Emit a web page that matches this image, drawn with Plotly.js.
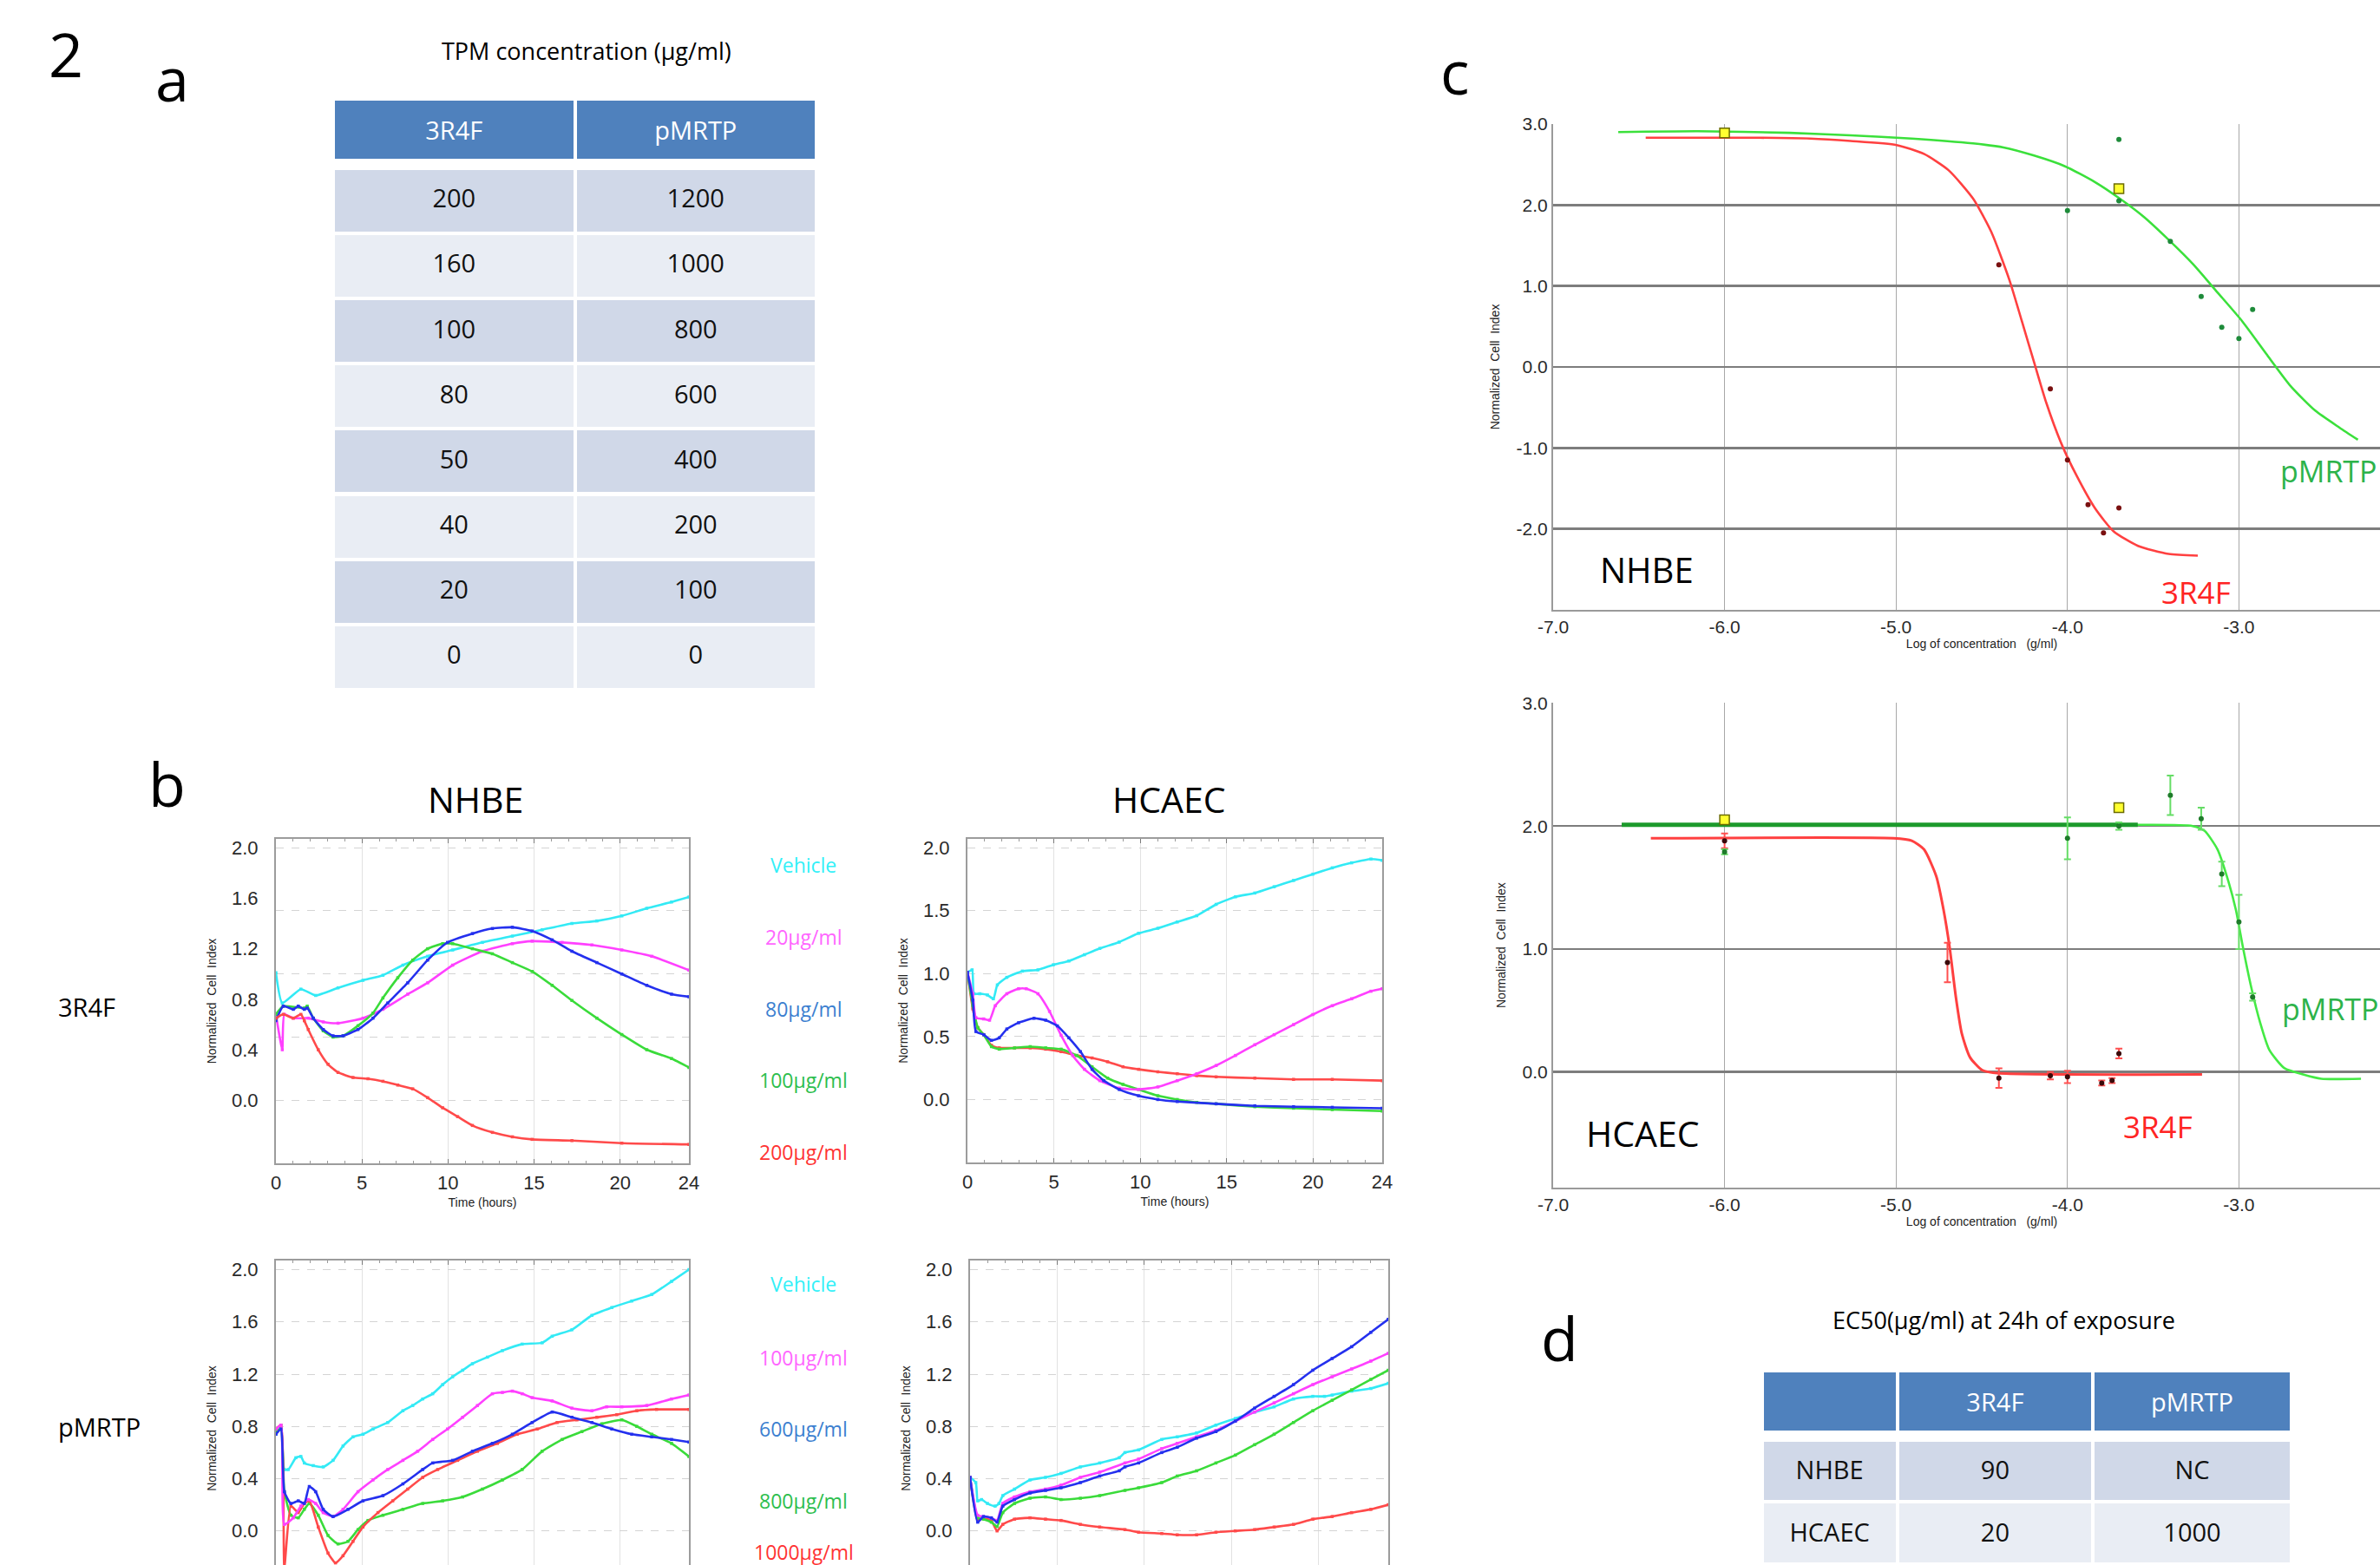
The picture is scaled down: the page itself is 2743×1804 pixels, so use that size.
<!DOCTYPE html>
<html><head><meta charset="utf-8">
<script src="https://cdn.plot.ly/plotly-3.0.1.min.js"></script>
<style>html,body{margin:0;padding:0;overflow:hidden;background:#fff}#fig{width:2900px;height:1900px}</style>
</head><body><div id="fig"></div>
<script>
// ---------------- (a) TPM concentration table ----------------
const tpmHeader = ['3R4F', 'pMRTP'];
const tpm3R4F = ['200', '160', '100', '80', '50', '40', '20', '0'];
const tpmPMRTP = ['1200', '1000', '800', '600', '400', '200', '100', '0'];

// ---------------- (d) EC50 table ----------------
const ec50Header = ['', '3R4F', 'pMRTP'];
const ec50Cells = ['NHBE', 'HCAEC'];
const ec50_3R4F = ['90', '20'];
const ec50_PMRTP = ['NC', '1000'];

// ---------------- (b) labels ----------------
const labels3R4F = ['Vehicle', '20µg/ml', '80µg/ml', '100µg/ml', '200µg/ml'];
const labelsPMRTP = ['Vehicle', '100µg/ml', '600µg/ml', '800µg/ml', '1000µg/ml'];
const timeTicks = [0, 5, 10, 15, 20, 24];

// NHBE, 3R4F (time in hours, normalized cell index)
const b1VehT = [0, 0.37, 1.45, 2.31, 3.61, 5.06, 6.22, 7.38, 8.82, 10.27, 12.0, 13.74, 15.47, 17.2, 18.65, 20.1, 21.55, 22.99, 24];
const b1VehY = [1.01, 0.77, 0.88, 0.83, 0.89, 0.95, 0.99, 1.07, 1.14, 1.19, 1.25, 1.30, 1.35, 1.40, 1.42, 1.46, 1.52, 1.57, 1.61];
const b1C20T = [0, 0.37, 0.49, 1.01, 1.88, 2.75, 3.61, 5.06, 6.22, 7.66, 8.82, 10.27, 12.0, 13.74, 14.89, 16.63, 18.36, 20.1, 21.84, 24];
const b1C20Y = [0.68, 0.40, 0.68, 0.65, 0.65, 0.62, 0.61, 0.65, 0.72, 0.84, 0.93, 1.07, 1.18, 1.24, 1.26, 1.25, 1.23, 1.19, 1.14, 1.03];
const b1C80T = [0, 0.43, 1.01, 1.30, 1.65, 1.82, 2.17, 2.75, 3.32, 3.9, 4.77, 5.64, 6.5, 7.66, 8.82, 9.97, 11.42, 12.58, 13.74, 14.89, 16.05, 17.2, 18.65, 20.1, 21.55, 22.99, 24];
const b1C80Y = [0.63, 0.745, 0.72, 0.745, 0.72, 0.73, 0.65, 0.56, 0.51, 0.51, 0.56, 0.65, 0.77, 0.93, 1.11, 1.25, 1.32, 1.36, 1.37, 1.34, 1.27, 1.18, 1.09, 1.0, 0.91, 0.84, 0.82];
const b1C100T = [0, 0.43, 1.65, 1.82, 2.17, 2.75, 3.32, 3.9, 4.77, 5.64, 6.22, 7.08, 7.95, 8.82, 9.69, 10.27, 11.42, 12.58, 13.74, 14.89, 16.05, 17.2, 18.65, 20.1, 21.55, 22.99, 24];
const b1C100Y = [0.68, 0.745, 0.73, 0.745, 0.65, 0.55, 0.50, 0.51, 0.59, 0.69, 0.81, 0.97, 1.11, 1.20, 1.24, 1.24, 1.20, 1.16, 1.09, 1.02, 0.91, 0.79, 0.65, 0.52, 0.40, 0.33, 0.26];
const b1C200T = [0, 0.43, 1.01, 1.45, 1.65, 1.88, 2.46, 3.03, 3.61, 4.48, 5.35, 6.22, 7.08, 7.95, 8.82, 9.69, 10.56, 11.42, 12.58, 13.74, 14.89, 17.2, 20.1, 24];
const b1C200Y = [0.65, 0.68, 0.65, 0.68, 0.63, 0.56, 0.40, 0.285, 0.22, 0.18, 0.17, 0.15, 0.12, 0.09, 0.02, -0.06, -0.13, -0.20, -0.255, -0.29, -0.31, -0.32, -0.34, -0.35];

// HCAEC, 3R4F
const b2VehT = [0, 0.27, 0.38, 0.72, 1.16, 1.5, 1.73, 2.28, 3.18, 4.08, 4.97, 5.87, 6.77, 7.66, 8.78, 9.9, 11.02, 12.14, 13.27, 14.39, 15.51, 16.63, 17.75, 18.87, 19.99, 21.11, 22.23, 23.35, 24];
const b2VehY = [1.01, 1.03, 0.84, 0.84, 0.83, 0.80, 0.91, 0.97, 1.02, 1.03, 1.07, 1.10, 1.15, 1.20, 1.25, 1.32, 1.36, 1.41, 1.46, 1.55, 1.61, 1.64, 1.69, 1.74, 1.79, 1.84, 1.88, 1.91, 1.90];
const b2C20T = [0, 0.31, 0.49, 0.94, 1.28, 1.61, 2.28, 2.96, 3.40, 4.08, 4.75, 5.42, 6.09, 6.77, 7.66, 8.78, 9.9, 11.02, 12.14, 13.27, 14.39, 15.51, 16.63, 17.75, 18.87, 19.99, 21.11, 22.23, 23.35, 24];
const b2C20Y = [1.01, 0.84, 0.65, 0.64, 0.63, 0.745, 0.84, 0.88, 0.88, 0.84, 0.70, 0.51, 0.35, 0.24, 0.15, 0.09, 0.08, 0.10, 0.15, 0.205, 0.27, 0.35, 0.435, 0.515, 0.595, 0.675, 0.745, 0.80, 0.86, 0.88];
const b2C80T = [0, 0.31, 0.49, 0.94, 1.39, 1.84, 2.28, 2.96, 3.85, 4.53, 5.2, 5.87, 6.54, 7.21, 7.89, 8.78, 9.9, 11.02, 12.14, 14.39, 16.63, 18.87, 21.11, 24];
const b2C80Y = [1.01, 0.79, 0.54, 0.515, 0.47, 0.49, 0.56, 0.61, 0.645, 0.63, 0.585, 0.49, 0.38, 0.24, 0.15, 0.08, 0.03, 0.0, -0.016, -0.034, -0.05, -0.057, -0.062, -0.069];
const b2C100T = [0, 0.31, 0.6, 0.94, 1.39, 1.84, 2.73, 3.63, 4.53, 5.42, 6.32, 7.21, 8.11, 9.0, 9.9, 11.02, 12.14, 13.27, 14.39, 16.63, 18.87, 21.11, 24];
const b2C100Y = [1.01, 0.745, 0.57, 0.515, 0.42, 0.40, 0.41, 0.42, 0.41, 0.40, 0.35, 0.26, 0.17, 0.12, 0.08, 0.03, 0.0, -0.023, -0.034, -0.057, -0.069, -0.08, -0.092];
const b2C200T = [0, 0.31, 0.6, 0.94, 1.39, 1.84, 2.73, 3.63, 4.53, 5.42, 6.32, 7.21, 8.11, 9.0, 9.9, 11.02, 12.14, 13.27, 14.39, 16.63, 18.87, 21.11, 24];
const b2C200Y = [1.01, 0.72, 0.57, 0.515, 0.43, 0.41, 0.41, 0.41, 0.40, 0.38, 0.35, 0.33, 0.30, 0.26, 0.24, 0.22, 0.205, 0.19, 0.18, 0.17, 0.16, 0.16, 0.15];

// NHBE, pMRTP
const b3VehT = [0, 0.29, 0.49, 0.72, 1.16, 1.45, 1.65, 2.17, 2.75, 3.32, 3.9, 4.48, 5.06, 5.64, 6.5, 7.38, 7.95, 8.53, 9.11, 9.69, 10.27, 10.85, 11.42, 12.29, 13.16, 14.31, 15.47, 16.05, 17.2, 18.36, 19.52, 20.68, 21.84, 22.99, 24];
const b3VehY = [0.74, 0.81, 0.47, 0.47, 0.56, 0.57, 0.52, 0.50, 0.49, 0.54, 0.65, 0.72, 0.74, 0.78, 0.83, 0.92, 0.96, 1.01, 1.05, 1.12, 1.18, 1.23, 1.28, 1.33, 1.38, 1.43, 1.44, 1.49, 1.54, 1.65, 1.71, 1.76, 1.81, 1.91, 2.0];
const b3C100T = [0, 0.29, 0.49, 1.01, 1.45, 1.88, 2.31, 2.75, 3.32, 3.9, 4.77, 5.64, 6.5, 7.38, 8.24, 9.11, 9.97, 10.85, 11.71, 12.58, 13.16, 13.74, 14.31, 14.89, 16.05, 17.2, 18.36, 19.22, 20.1, 21.55, 22.99, 24];
const b3C100Y = [0.78, 0.81, 0.05, 0.10, 0.19, 0.24, 0.21, 0.14, 0.11, 0.165, 0.30, 0.39, 0.47, 0.54, 0.61, 0.70, 0.78, 0.87, 0.96, 1.05, 1.06, 1.07, 1.05, 1.02, 0.995, 0.94, 0.92, 0.95, 0.95, 0.96, 1.01, 1.04];
const b3C600T = [0, 0.29, 0.49, 0.87, 1.30, 1.65, 1.94, 2.31, 2.75, 3.32, 4.19, 5.06, 6.22, 7.38, 8.53, 9.11, 10.27, 11.42, 12.58, 13.74, 14.89, 16.05, 17.2, 18.36, 19.52, 20.68, 21.84, 22.99, 24];
const b3C600Y = [0.74, 0.78, 0.30, 0.21, 0.23, 0.21, 0.34, 0.30, 0.165, 0.11, 0.165, 0.23, 0.27, 0.36, 0.47, 0.52, 0.54, 0.61, 0.67, 0.74, 0.83, 0.91, 0.87, 0.83, 0.78, 0.74, 0.72, 0.70, 0.68];
const b3C800T = [0, 0.29, 0.49, 0.87, 1.30, 1.65, 1.94, 2.46, 3.03, 3.61, 4.19, 4.77, 5.35, 6.22, 7.38, 8.53, 9.69, 10.85, 12.0, 13.16, 14.31, 15.47, 16.63, 17.78, 18.94, 20.1, 20.97, 21.84, 22.99, 24];
const b3C800Y = [0.76, 0.78, 0.30, 0.12, 0.10, 0.165, 0.21, 0.12, -0.035, -0.10, -0.08, 0.01, 0.08, 0.12, 0.165, 0.21, 0.23, 0.26, 0.32, 0.39, 0.47, 0.61, 0.70, 0.76, 0.82, 0.85, 0.80, 0.74, 0.67, 0.57];
const b3C1000T = [0, 0.29, 0.49, 0.87, 1.30, 1.65, 1.94, 2.46, 3.03, 3.46, 3.9, 4.48, 5.06, 5.93, 6.79, 7.66, 8.53, 9.4, 10.56, 11.71, 12.87, 14.02, 15.18, 16.34, 17.49, 18.65, 19.81, 20.97, 22.12, 24];
const b3C1000Y = [0.78, 0.81, -0.28, 0.19, 0.14, 0.21, 0.23, 0.03, -0.17, -0.245, -0.19, -0.08, 0.03, 0.14, 0.23, 0.32, 0.41, 0.47, 0.54, 0.61, 0.67, 0.74, 0.78, 0.83, 0.85, 0.87, 0.89, 0.92, 0.93, 0.93];

// HCAEC, pMRTP
const b4VehT = [0, 0.33, 0.44, 0.66, 1.0, 1.44, 1.66, 1.88, 2.55, 3.44, 4.33, 5.22, 6.33, 7.44, 8.56, 8.89, 9.67, 11.0, 11.89, 13.0, 14.11, 15.22, 16.33, 17.45, 18.56, 19.67, 20.34, 20.78, 21.9, 23.0, 24];
const b4VehY = [0.41, 0.37, 0.23, 0.24, 0.21, 0.19, 0.21, 0.27, 0.32, 0.39, 0.41, 0.44, 0.49, 0.52, 0.56, 0.60, 0.62, 0.70, 0.72, 0.75, 0.81, 0.86, 0.91, 0.95, 1.01, 1.03, 1.03, 1.04, 1.07, 1.09, 1.13];
const b4C100T = [0, 0.44, 0.77, 1.22, 1.55, 1.88, 2.55, 3.44, 4.33, 5.22, 6.33, 7.44, 8.89, 9.67, 11.0, 11.89, 13.0, 14.11, 15.22, 16.33, 17.45, 18.56, 19.67, 20.78, 21.9, 23.0, 24];
const b4C100Y = [0.41, 0.12, 0.11, 0.10, 0.08, 0.21, 0.26, 0.30, 0.32, 0.35, 0.41, 0.45, 0.52, 0.55, 0.63, 0.67, 0.72, 0.77, 0.84, 0.91, 0.98, 1.05, 1.12, 1.18, 1.24, 1.30, 1.36];
const b4C600T = [0, 0.44, 0.77, 1.22, 1.55, 1.88, 2.55, 3.44, 4.33, 5.22, 6.33, 7.44, 8.56, 8.89, 9.67, 11.0, 11.89, 13.0, 14.11, 15.22, 16.33, 17.45, 18.56, 19.67, 20.78, 21.9, 23.0, 24];
const b4C600Y = [0.41, 0.067, 0.11, 0.10, 0.067, 0.19, 0.24, 0.29, 0.31, 0.33, 0.37, 0.42, 0.46, 0.49, 0.52, 0.60, 0.64, 0.71, 0.76, 0.84, 0.94, 1.03, 1.12, 1.23, 1.32, 1.41, 1.52, 1.62];
const b4C800T = [0, 0.44, 0.77, 1.22, 1.55, 1.88, 2.55, 3.44, 4.33, 5.22, 6.33, 7.44, 8.89, 9.67, 11.0, 11.89, 13.0, 14.11, 15.22, 16.33, 17.45, 18.56, 19.67, 20.78, 21.9, 23.0, 24];
const b4C800Y = [0.41, 0.10, 0.09, 0.067, 0.034, 0.14, 0.21, 0.25, 0.26, 0.24, 0.25, 0.27, 0.31, 0.33, 0.37, 0.42, 0.46, 0.52, 0.58, 0.66, 0.74, 0.83, 0.92, 1.0, 1.08, 1.16, 1.23];
const b4C1000T = [0, 0.44, 0.77, 1.22, 1.55, 1.88, 2.55, 3.44, 4.33, 5.22, 6.33, 7.44, 8.89, 9.67, 11.0, 11.89, 13.0, 14.11, 15.22, 16.33, 17.45, 18.56, 19.67, 20.78, 21.9, 23.0, 24];
const b4C1000Y = [0.41, 0.08, 0.10, 0.08, 0.0, 0.05, 0.09, 0.10, 0.09, 0.08, 0.05, 0.03, 0.01, -0.01, -0.02, -0.03, -0.03, -0.01, 0.0, 0.01, 0.03, 0.05, 0.09, 0.11, 0.14, 0.165, 0.20];

// ---------------- (c) dose response (log10 g/ml) ----------------
const cXTicks = [-7, -6, -5, -4, -3];
const cXTickText = ['-7.0', '-6.0', '-5.0', '-4.0', '-3.0'];
const c1YTicks = [-2, -1, 0, 1, 2, 3];
const c1YTickText = ['-2.0', '-1.0', '0.0', '1.0', '2.0', '3.0'];
const c2YTicks = [0, 1, 2, 3];
const c2YTickText = ['0.0', '1.0', '2.0', '3.0'];
const cLabels = ['NHBE', 'HCAEC', '3R4F', 'pMRTP'];

const nhbeRedCurveX = [-6.46, -5.8, -5.5, -5.265, -4.997, -4.837, -4.694, -4.551, -4.445, -4.338, -4.266, -4.195, -4.124, -4.035, -3.945, -3.838, -3.731, -3.589, -3.41, -3.24];
const nhbeRedCurveY = [2.83, 2.83, 2.82, 2.79, 2.74, 2.63, 2.43, 2.08, 1.67, 1.07, 0.565, 0.06, -0.44, -0.95, -1.35, -1.75, -2.03, -2.21, -2.31, -2.33];
const nhbeRedPtsX = [-4.40, -4.10, -4.00, -3.88, -3.79, -3.70];
const nhbeRedPtsY = [1.26, -0.27, -1.15, -1.70, -2.05, -1.74];
const nhbeGreenCurveX = [-6.62, -6.156, -5.621, -5.265, -4.908, -4.551, -4.373, -4.195, -4.017, -3.838, -3.696, -3.553, -3.41, -3.268, -3.125, -2.983, -2.84, -2.697, -2.555, -2.413, -2.306];
const nhbeGreenCurveY = [2.90, 2.91, 2.89, 2.86, 2.82, 2.76, 2.71, 2.61, 2.48, 2.28, 2.08, 1.85, 1.57, 1.27, 0.92, 0.57, 0.16, -0.24, -0.54, -0.75, -0.90];
const nhbeGreenPtsX = [-4.00, -3.70, -3.70, -3.40, -3.22, -3.10, -3.00, -2.92];
const nhbeGreenPtsY = [1.93, 2.81, 2.05, 1.55, 0.87, 0.49, 0.35, 0.71];
const nhbeMarkX = [-6.0, -3.7];
const nhbeMarkY = [2.89, 2.20];

const hcaecRedCurveX = [-6.43, -5.015, -4.908, -4.837, -4.765, -4.723, -4.687, -4.651, -4.616, -4.569, -4.498, -4.409, -3.215];
const hcaecRedCurveY = [1.90, 1.90, 1.88, 1.81, 1.59, 1.32, 1.01, 0.61, 0.31, 0.12, 0.015, -0.01, -0.02];
const hcaecRedPtsX = [-6.0, -4.70, -4.40, -4.10, -4.00, -3.80, -3.74, -3.70];
const hcaecRedPtsY = [1.88, 0.89, -0.05, -0.03, -0.04, -0.09, -0.07, 0.15];
const hcaecRedPtsErr = [0.06, 0.16, 0.08, 0.03, 0.05, 0.02, 0.02, 0.04];
const hcaecGreenCurveX = [-6.60, -3.59, -3.27, -3.20, -3.125, -3.07, -3.018, -2.976, -2.93, -2.876, -2.823, -2.734, -2.626, -2.52, -2.288];
const hcaecGreenCurveY = [2.01, 2.01, 2.0, 1.96, 1.81, 1.59, 1.32, 1.01, 0.70, 0.40, 0.18, 0.03, -0.02, -0.055, -0.055];
const hcaecGreenPtsX = [-6.0, -4.0, -3.7, -3.4, -3.22, -3.1, -3.0, -2.92];
const hcaecGreenPtsY = [1.79, 1.90, 2.0, 2.25, 2.06, 1.61, 1.22, 0.61];
const hcaecGreenPtsErr = [0.02, 0.17, 0.03, 0.16, 0.09, 0.10, 0.22, 0.03];
const hcaecMarkX = [-6.0, -3.7];
const hcaecMarkY = [2.05, 2.15];

// ---------------- helpers / layout ----------------
const W = 2900, H = 1900;
const px = v => v / W;
const py = v => 1 - v / H;
const dX = (a, b) => [px(a), px(b)];
const dY = (top, bottom) => [py(bottom), py(top)];

const CAL = 'Open Sans, sans-serif';
const AX = 'Liberation Sans, Arial, sans-serif';
const curveCols = ['#33EAF5', '#FF40FF', '#2430EE', '#3ADB3A', '#FF4A4A'];
const labelCols = ['#33F0F8', '#FF66FF', '#3C7FD0', '#2DBE4E', '#FF3333'];

const traces = [];
function bLine(t, y, col, xa, ya) {
  traces.push({type: 'scatter', mode: 'lines+markers', x: t, y: y, xaxis: xa, yaxis: ya,
    line: {color: col, width: 2.6, shape: 'spline', smoothing: 0.5},
    marker: {color: col, size: 3.5, symbol: 'square'}, hoverinfo: 'skip', showlegend: false});
}
bLine(b1VehT, b1VehY, curveCols[0], 'x', 'y');
bLine(b1C20T, b1C20Y, curveCols[1], 'x', 'y');
bLine(b1C100T, b1C100Y, curveCols[3], 'x', 'y');
bLine(b1C80T, b1C80Y, curveCols[2], 'x', 'y');
bLine(b1C200T, b1C200Y, curveCols[4], 'x', 'y');

bLine(b2VehT, b2VehY, curveCols[0], 'x2', 'y2');
bLine(b2C200T, b2C200Y, curveCols[4], 'x2', 'y2');
bLine(b2C100T, b2C100Y, curveCols[3], 'x2', 'y2');
bLine(b2C20T, b2C20Y, curveCols[1], 'x2', 'y2');
bLine(b2C80T, b2C80Y, curveCols[2], 'x2', 'y2');

bLine(b3VehT, b3VehY, curveCols[0], 'x3', 'y3');
bLine(b3C800T, b3C800Y, curveCols[3], 'x3', 'y3');
bLine(b3C1000T, b3C1000Y, curveCols[4], 'x3', 'y3');
bLine(b3C100T, b3C100Y, curveCols[1], 'x3', 'y3');
bLine(b3C600T, b3C600Y, curveCols[2], 'x3', 'y3');

bLine(b4VehT, b4VehY, curveCols[0], 'x4', 'y4');
bLine(b4C1000T, b4C1000Y, curveCols[4], 'x4', 'y4');
bLine(b4C800T, b4C800Y, curveCols[3], 'x4', 'y4');
bLine(b4C100T, b4C100Y, curveCols[1], 'x4', 'y4');
bLine(b4C600T, b4C600Y, curveCols[2], 'x4', 'y4');

function cCurve(x, y, col, w, xa, ya) {
  traces.push({type: 'scatter', mode: 'lines', x: x, y: y, xaxis: xa, yaxis: ya,
    line: {color: col, width: w, shape: 'spline', smoothing: 0.6}, hoverinfo: 'skip', showlegend: false});
}
function cPts(x, y, col, xa, ya, err, errCol) {
  const t = {type: 'scatter', mode: 'markers', x: x, y: y, xaxis: xa, yaxis: ya,
    marker: {color: col, size: 6}, hoverinfo: 'skip', showlegend: false};
  if (err) t.error_y = {type: 'data', array: err, visible: true, color: errCol, thickness: 2, width: 4};
  traces.push(t);
}
function cMark(x, y, xa, ya) {
  traces.push({type: 'scatter', mode: 'markers', x: x, y: y, xaxis: xa, yaxis: ya,
    marker: {color: '#FFFF30', size: 11, symbol: 'square', line: {color: '#6b6b00', width: 1.5}},
    hoverinfo: 'skip', showlegend: false});
}
cCurve(nhbeGreenCurveX, nhbeGreenCurveY, '#3BE03B', 2.6, 'x5', 'y5');
cCurve(nhbeRedCurveX, nhbeRedCurveY, '#FF4040', 2.6, 'x5', 'y5');
cPts(nhbeRedPtsX, nhbeRedPtsY, '#7A1010', 'x5', 'y5');
cPts(nhbeGreenPtsX, nhbeGreenPtsY, '#1E8B3A', 'x5', 'y5');
cMark(nhbeMarkX, nhbeMarkY, 'x5', 'y5');

cCurve(hcaecGreenCurveX, hcaecGreenCurveY, '#44EA44', 2.6, 'x6', 'y6');
cCurve(hcaecGreenCurveX.slice(0, 2), hcaecGreenCurveY.slice(0, 2), '#1C9A2C', 5, 'x6', 'y6');
cCurve(hcaecRedCurveX, hcaecRedCurveY, '#FF4040', 3, 'x6', 'y6');
cPts(hcaecRedPtsX, hcaecRedPtsY, '#3a0a0a', 'x6', 'y6', hcaecRedPtsErr, '#FF5050');
cPts(hcaecGreenPtsX, hcaecGreenPtsY, '#1E7B2A', 'x6', 'y6', hcaecGreenPtsErr, '#66DD66');
cMark(hcaecMarkX, hcaecMarkY, 'x6', 'y6');

// ---------------- tables: a fill layer + a text layer (text vertically centred) ----------------
const NONE = 'rgba(0,0,0,0)';
const HDR = '#4F81BD', ODD = '#D0D8E8', EVEN = '#E9EDF4';
const blank = arr => arr.map(() => '');
const alt = n => Array.from({length: n}, (_, i) => i % 2 === 0 ? EVEN : ODD);
const hdrFont = {family: CAL, size: 29, color: '#FFFFFF'};
const cellFont = {family: CAL, size: 29, color: '#111111'};
const TXT_OFF = 19.4; // distance from the top of a cell to the centre of its text

function addTable(xd, colw, header, cols, hdrTop, hdrH, hdrTxt, bodyTop, rowH, bodyTxt) {
  const nRest = cols[0].length - 1;
  // fill layer
  traces.push({type: 'table', domain: {x: xd, y: dY(hdrTop, hdrTop + hdrH + 20)}, columnwidth: colw,
    header: {values: blank(header), fill: {color: HDR}, line: {color: '#FFFFFF', width: 4}, height: hdrH, font: hdrFont},
    cells: {values: []}});
  traces.push({type: 'table', domain: {x: xd, y: dY(bodyTop, bodyTop + rowH * cols[0].length + 20)}, columnwidth: colw,
    header: {values: cols.map(c => [blank(c)[0]]), fill: {color: ODD}, line: {color: '#FFFFFF', width: 4}, height: rowH, font: cellFont},
    cells: {values: cols.map(c => blank(c).slice(1)), fill: {color: cols.map(() => alt(nRest))},
      line: {color: '#FFFFFF', width: 4}, height: rowH, font: cellFont}});
  // text layer
  const ht = hdrTxt - TXT_OFF, bt = bodyTxt - TXT_OFF;
  traces.push({type: 'table', domain: {x: xd, y: dY(ht, ht + hdrH + 20)}, columnwidth: colw,
    header: {values: header, fill: {color: NONE}, line: {color: NONE, width: 0}, height: hdrH, align: 'center', font: hdrFont},
    cells: {values: []}});
  traces.push({type: 'table', domain: {x: xd, y: dY(bt, bt + rowH * cols[0].length + 20)}, columnwidth: colw,
    header: {values: cols.map(c => [c[0]]), fill: {color: NONE}, line: {color: NONE, width: 0}, height: rowH, align: 'center', font: cellFont},
    cells: {values: cols.map(c => c.slice(1)), fill: {color: NONE}, line: {color: NONE, width: 0}, height: rowH, align: 'center', font: cellFont}});
}
addTable(dX(384, 941), [1, 1], tpmHeader, [tpm3R4F, tpmPMRTP], 114, 71, 151, 194, 75.1, 229);
addTable(dX(2030.7, 2641.5), [155.7, 225.6, 228.3], ec50Header, [ec50Cells, ec50_3R4F, ec50_PMRTP], 1579.7, 71.6, 1617, 1659.7, 71.6, 1695);

const tickF = {family: AX, size: 22, color: '#2a2a2a'};
const titleF = {family: AX, size: 14, color: '#222'};
function bX(dom, anchor, labels) {
  return {domain: dom, anchor: anchor, range: [0, 24], tickvals: timeTicks, showgrid: true, gridcolor: '#e2e2e2', gridwidth: 1,
    zeroline: false, showline: true, mirror: 'ticks', linecolor: '#9c9c9c', linewidth: 2,
    ticks: 'inside', ticklen: 5, tickcolor: '#7a7a7a', tickwidth: 1,
    minor: {dtick: 1, ticks: 'inside', ticklen: 3, tickcolor: '#9a9a9a', showgrid: false},
    ticklabelstandoff: 2, showticklabels: labels, tickfont: tickF,
    title: {text: labels ? 'Time (hours)' : '', font: titleF, standoff: 6}, fixedrange: true};
}
function bY(dom, anchor, tv, grid) {
  const a = {domain: dom, anchor: anchor, range: [-0.5, 2.07], tickvals: tv, tickformat: '.1f', zeroline: false,
    showline: true, mirror: true, linecolor: '#9c9c9c', linewidth: 2, ticks: 'outside', ticklen: 0, ticklabelstandoff: 14,
    tickfont: tickF, title: {text: 'Normalized  Cell  Index', font: titleF, standoff: 14}, fixedrange: true,
    showgrid: !grid, gridcolor: '#d4d4d4', griddash: 'dash', gridwidth: 1};
  if (grid) a.minor = {tickvals: grid, showgrid: true, gridcolor: '#d4d4d4', griddash: 'dash', gridwidth: 1, ticks: 'inside', ticklen: 0};
  return a;
}
function cX(dom, anchor) {
  return {domain: dom, anchor: anchor, range: [-7, -2], tickvals: cXTicks, ticktext: cXTickText, showgrid: true,
    gridcolor: '#a8a8a8', gridwidth: 1, zeroline: false, showline: true, linecolor: '#9a9a9a', linewidth: 2, ticks: '',
    tickfont: {family: AX, size: 21, color: '#2a2a2a'}, title: {text: 'Log of concentration   (g/ml)', font: titleF, standoff: 4}, fixedrange: true};
}
function cY(dom, anchor, range, tv, tt) {
  return {domain: dom, anchor: anchor, range: range, tickvals: tv, ticktext: tt, showgrid: true, gridcolor: '#7d7d7d',
    gridwidth: 2.5, zeroline: false, showline: true, linecolor: '#9a9a9a', linewidth: 2, ticks: '',
    tickfont: {family: AX, size: 21, color: '#2a2a2a'}, title: {text: 'Normalized  Cell  Index', font: titleF, standoff: 16}, fixedrange: true};
}

const ann = [];
function A(text, x, y, size, color, family) {
  ann.push({text: text, x: px(x), y: py(y), xref: 'paper', yref: 'paper', showarrow: false, xanchor: 'center', yanchor: 'middle',
    font: {family: family || CAL, size: size, color: color || '#000'}});
}
const panelLetters = ['2', 'a', 'b', 'c', 'd'];
const letterPos = [[76, 62], [198, 90], [192, 903], [1677, 82], [1797, 1542]];
panelLetters.forEach((t, i) => A(t, letterPos[i][0], letterPos[i][1], 70));
A('TPM concentration (µg/ml)', 676, 58, 27);
A('EC50(µg/ml) at 24h of exposure', 2309, 1521, 27);
A(ec50Cells[0], 548, 921, 41);
A(ec50Cells[1], 1347, 921, 41);
A(tpmHeader[0], 100, 1160, 29);
A(tpmHeader[1], 114, 1644, 29);
const legTop = [997, 1080, 1163, 1245, 1328];
const legBot = [1480, 1565, 1647, 1730, 1789];
labels3R4F.forEach((t, i) => A(t, 926, legTop[i], 23, labelCols[i]));
labelsPMRTP.forEach((t, i) => A(t, 926, legBot[i], 23, labelCols[i]));
A(cLabels[0], 1898, 656, 40);
A(cLabels[2], 2531, 682, 35, '#FF2424');
A(cLabels[3], 2684, 543, 34, '#2DB34A');
A(cLabels[1], 1893, 1306, 41);
A(cLabels[2], 2487, 1298, 35, '#FF2424');
A(cLabels[3], 2686, 1163, 34, '#2DB34A');

const layout = {
  width: W, height: H, margin: {l: 0, r: 0, t: 0, b: 0}, paper_bgcolor: '#fff', plot_bgcolor: '#fff', showlegend: false,
  xaxis: bX(dX(318, 794), 'y', true),
  yaxis: bY(dY(967, 1341), 'x', [0, 0.4, 0.8, 1.2, 1.6, 2.0], [0, 0.5, 1, 1.5, 2]),
  xaxis2: bX(dX(1115, 1593), 'y2', true),
  yaxis2: bY(dY(967, 1340), 'x2', [0, 0.5, 1, 1.5, 2.0], null),
  xaxis3: bX(dX(318, 794), 'y3', false),
  yaxis3: bY(dY(1453, 1840), 'x3', [0, 0.4, 0.8, 1.2, 1.6, 2.0], null),
  xaxis4: bX(dX(1118, 1600), 'y4', false),
  yaxis4: bY(dY(1453, 1840), 'x4', [0, 0.4, 0.8, 1.2, 1.6, 2.0], null),
  xaxis5: cX(dX(1790, 2778), 'y5'),
  yaxis5: cY(dY(142.9, 703), 'x5', [-3, 3], c1YTicks, c1YTickText),
  xaxis6: cX(dX(1790, 2778), 'y6'),
  yaxis6: cY(dY(810.4, 1368.9), 'x6', [-0.94, 3.0], c2YTicks, c2YTickText),
  annotations: ann
};
Plotly.newPlot('fig', traces, layout, {displayModeBar: false, staticPlot: true});
</script>
</body></html>
